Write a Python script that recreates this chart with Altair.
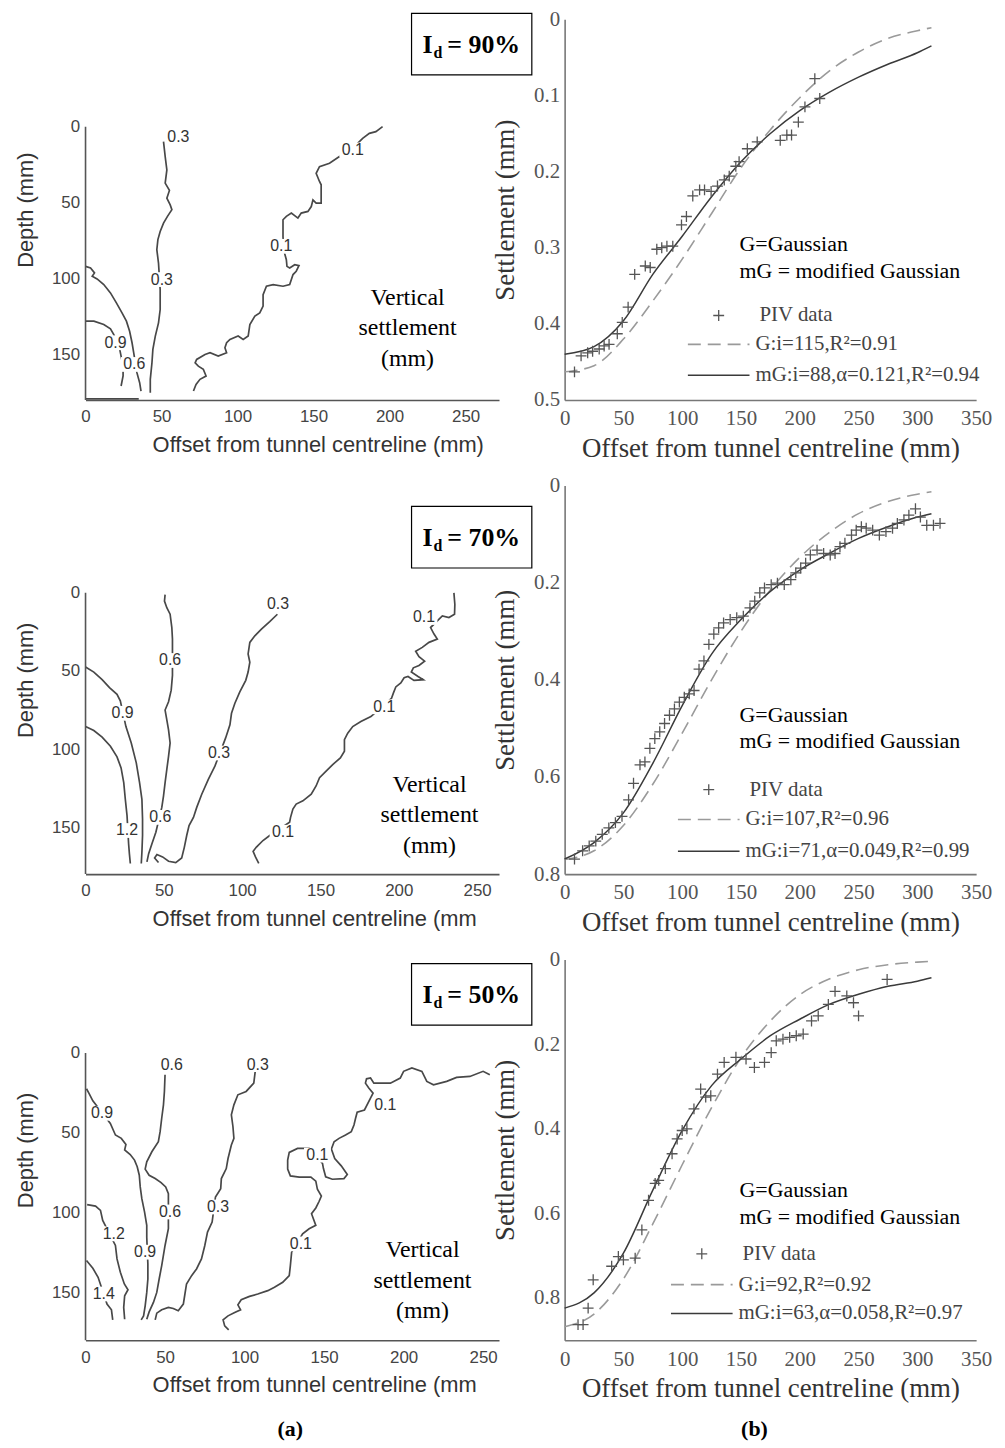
import altair as alt
import pandas as pd

SANS = "Liberation Sans"
SERIF = "Liberation Serif"
PLUS = "M-1,0L1,0M0,-1L0,1"
LABEL_BG = "M-1,-0.55L1,-0.55L1,0.55L-1,0.55Z"

# ---------------- (b) settlement troughs : PIV data ----------------
piv90_x = [8.4, 14, 19.6, 23.8, 29.4, 33.6, 37.8, 44.8, 49, 54, 59.6, 68.6, 72.8, 78.4, 82.6, 87, 92,
           99.4, 103.6, 109, 114.8, 119, 124.6, 130, 135.8, 140, 145.6, 148.4, 155.4, 163.8, 183.4,
           189, 193, 198.8, 204.4, 212.8, 217]
piv90_y = [0.463, 0.442, 0.438, 0.436, 0.433, 0.429, 0.427, 0.413, 0.398, 0.378, 0.335, 0.324, 0.326,
           0.302, 0.300, 0.298, 0.298, 0.270, 0.259, 0.232, 0.224, 0.224, 0.226, 0.219, 0.211, 0.206,
           0.193, 0.187, 0.170, 0.161, 0.159, 0.152, 0.152, 0.135, 0.115, 0.078, 0.104]

piv70_x = [8.4, 15.3, 20.9, 26.5, 32, 37.6, 43.2, 48.8, 54.4, 58.6, 64.1, 68.3, 72.5, 76.7, 80.9, 85,
           89.2, 93.4, 97.6, 101.8, 106, 110.1, 114.3, 118.5, 122.7, 126.9, 131, 135.2, 140.8, 146.4,
           152, 157.6, 161.7, 166, 170, 175.7, 181, 186.8, 192.4, 196.6, 200.8, 205, 209, 214.7, 220.3,
           225.9, 230, 234.2, 238.4, 244, 248, 252.4, 256.5, 262, 267.7, 273.3, 278.9, 283, 288.6,
           292.8, 298.4, 302.6, 308, 313.7, 319.3]
piv70_y = [0.769, 0.752, 0.742, 0.732, 0.718, 0.705, 0.694, 0.681, 0.647, 0.613, 0.575, 0.569, 0.541,
           0.521, 0.507, 0.490, 0.473, 0.460, 0.446, 0.436, 0.429, 0.422, 0.378, 0.361, 0.327, 0.306,
           0.293, 0.283, 0.276, 0.272, 0.269, 0.252, 0.238, 0.221, 0.211, 0.204, 0.201, 0.204, 0.194,
           0.180, 0.170, 0.160, 0.143, 0.133, 0.140, 0.143, 0.140, 0.126, 0.119, 0.102, 0.092, 0.085,
           0.088, 0.092, 0.102, 0.095, 0.088, 0.078, 0.071, 0.061, 0.048, 0.065, 0.082, 0.082, 0.078]

piv50_x = [11.4, 15.7, 20, 24.3, 40, 45.7, 50, 60, 65.7, 71.4, 77, 80, 85.7, 91.4, 95.7, 100, 104, 110,
           115.7, 120, 124.3, 130, 135.7, 145.7, 154.3, 161.4, 170, 175.7, 180, 185.7, 191.4, 197,
           202.9, 210, 215.7, 224.3, 230, 240, 245.7, 250, 274.3]
piv50_y = [0.863, 0.863, 0.824, 0.757, 0.725, 0.702, 0.710, 0.706, 0.639, 0.569, 0.529, 0.522, 0.494,
           0.459, 0.424, 0.404, 0.400, 0.353, 0.306, 0.325, 0.322, 0.271, 0.243, 0.231, 0.235, 0.255,
           0.243, 0.220, 0.192, 0.188, 0.184, 0.180, 0.176, 0.145, 0.133, 0.106, 0.075, 0.086, 0.102,
           0.133, 0.047]

# ---------------- fitted curves ----------------
fit_x = [0, 25, 50, 75, 100, 125, 150, 175, 200, 225, 250, 275, 300, 312]
g90 = [0.463, 0.455, 0.42, 0.37, 0.315, 0.255, 0.195, 0.145, 0.103, 0.068, 0.043, 0.025, 0.015, 0.011]
mg90 = [0.44, 0.43, 0.396, 0.335, 0.285, 0.233, 0.187, 0.150, 0.120, 0.096, 0.076, 0.059, 0.044, 0.035]
g70 = [0.77, 0.752, 0.70, 0.615, 0.51, 0.40, 0.30, 0.215, 0.148, 0.097, 0.058, 0.033, 0.018, 0.013]
mg70 = [0.769, 0.735, 0.674, 0.572, 0.453, 0.347, 0.276, 0.218, 0.174, 0.14, 0.109, 0.085, 0.065, 0.058]
g50 = [0.868, 0.838, 0.755, 0.625, 0.485, 0.35, 0.232, 0.145, 0.083, 0.046, 0.024, 0.012, 0.006, 0.004]
mg50 = [0.824, 0.788, 0.694, 0.545, 0.404, 0.298, 0.235, 0.180, 0.141, 0.106, 0.082, 0.063, 0.051, 0.043]

# ---------------- (a) vertical settlement contours ----------------
c90_01_x = [195.4, 191, 186.7, 182.3, 178, 171.4, 167, 160.5, 153.9, 151.7, 153.9, 155, 155, 151.7, 149.6,
            148.5, 146.3, 141.9, 139.7, 135.4, 132.1, 129.9, 129.9, 130.3, 132.1, 132.5, 134.3, 137.6,
            140.4, 138.6, 136.5, 134.3, 129.9, 123.4, 119, 116.8, 116.8, 114.6, 111.4, 108.1, 107, 103.7,
            100.4, 95, 92.8, 91.7, 92.8, 87.3, 81.9, 78.6, 73.1, 72.1, 74.2, 77.5, 79.3, 75.3, 72.7, 71]
c90_01_y = [0, 3.3, 4.4, 7.7, 12, 17.5, 19.7, 24.1, 26.3, 30.7, 36.1, 38.3, 50.4, 50.4, 48.2, 52.6, 55.8,
            56.9, 60.2, 56.9, 59.1, 61.3, 72.3, 81, 87.6, 92, 93.1, 90.9, 91.5, 95.2, 97.4, 104, 105.1,
            104, 105.1, 110.6, 118.2, 122.6, 124.8, 130.3, 137.9, 140.1, 137.9, 140.1, 142.3, 145.6,
            148.9, 151.1, 148.9, 150, 153.3, 155.5, 157.7, 159.8, 164.2, 166.4, 169.7, 174.1]
c90_03_x = [51.3, 52.4, 53.5, 52.4, 55.2, 53.5, 55.7, 56.8, 53.9, 51.3, 49.1, 47.6, 46.9, 48, 49.1, 49.1,
            48, 45.9, 44.3, 43.7, 42.6, 42.6]
c90_03_y = [9.9, 19.7, 28.5, 37.2, 42, 47.1, 51.5, 54.7, 59.1, 63.5, 69, 74.4, 81, 89.8, 107.3, 120.4,
            129.2, 137.9, 146.7, 155.5, 166.4, 175.2]
c90_06_x = [0, 3.3, 5.9, 4.4, 7.6, 12, 16.4, 20.3, 24, 26.9, 29, 30.6, 31.7, 33.8, 35.6, 36.5]
c90_06_y = [92, 93.1, 96.3, 98.5, 100.3, 104, 109.5, 116, 122.6, 128.1, 134.7, 142.3, 148.9, 162, 168.6, 174.1]
c90_09_x = [0, 5.5, 12, 16.4, 18.6, 22.5, 24.7, 24.7, 23.4]
c90_09_y = [128.1, 128.1, 130.3, 133.1, 136.9, 146.7, 157.7, 164.2, 170.8]
c90_b_x = [0, 35]
c90_b_y = [179.3, 179.3]
lab90_t = ["0.3", "0.1", "0.1", "0.3", "0.9", "0.6"]
lab90_x = [61.1, 175.8, 128.8, 50.2, 19.7, 32.1]
lab90_y = [6.6, 15.3, 78.8, 100.7, 142.3, 156.6]

c70_01_x = [235.2, 235.8, 235.6, 232, 227.8, 220.3, 222.5, 224.6, 219.3, 215, 210.8, 212.9, 216.5, 212.9,
            209.3, 208, 212.3, 215.7, 209.7, 205.9, 203.4, 201.3, 198.1, 196.6, 195.3, 182.2, 175.8,
            170.6, 167.4, 165.3, 165.3, 162.7, 157.8, 153.6, 149.4, 147.2, 144.1, 138.8, 134.5, 132.4,
            130.9, 130.3, 117.6, 113.3, 109.1, 107, 108.5, 110.6]
c70_01_y = [0, 7.4, 13.7, 15.8, 14.8, 22.2, 26.4, 29.6, 31.7, 34.9, 37.4, 40.8, 43.7, 46.5, 48, 50.7,
            53.5, 55.6, 56, 53.5, 54.3, 57.7, 60.2, 64, 67.6, 79.2, 82.4, 85.6, 89.8, 94, 101.4, 105.6,
            109.9, 114.1, 118.3, 123.6, 128.9, 133.1, 135.2, 138.4, 143.7, 146.8, 155.3, 158.5, 162.7,
            165.4, 169, 173.2]
c70_03_x = [122.5, 117.6, 112.3, 108.1, 104.9, 103.8, 104.9, 103.8, 102.3, 98.5, 95.3, 93.2, 92.2, 89.4,
            82.6, 78.4, 74.2, 71, 68.9, 66.1, 64.6, 63.1, 61.4, 57.6, 53, 49.2, 45.6, 44.1, 46.6]
c70_03_y = [13.7, 18.4, 23.2, 27.5, 31.7, 39.1, 44.4, 50.7, 56, 63.4, 70.8, 77.1, 84.5, 93, 110.9, 119.4,
            128.9, 137.3, 143.7, 149, 155.3, 162.7, 169.7, 172.6, 171.8, 169, 167.5, 169.7, 172.6]
c70_06_x = [50.8, 50.4, 51.9, 54, 55.1, 55.5, 55.5, 54.7, 53, 50.8, 51.9, 53, 54, 53, 51.9, 50.8, 49.8,
            48.7, 44.9, 42.4, 40.3, 39.2]
c70_06_y = [1.1, 5.3, 9.5, 13.7, 22.2, 29.6, 52.8, 62.3, 69.7, 75, 81.3, 87.7, 96.1, 104.6, 113, 121.5,
            129.9, 137.3, 153.2, 160.6, 166.9, 172.2]
c70_09_x = [0, 5.3, 10.6, 15.3, 20.1, 22.2, 25.8, 29.2, 32.4, 34.5, 36, 36.4, 36.4, 36, 35.6]
c70_09_y = [47.5, 50.7, 55.6, 60.6, 64.9, 69.1, 85.6, 96.1, 108.8, 121.5, 132.1, 144.7, 155.3, 165.9, 173.2]
c70_12_x = [0, 5.3, 10.6, 15.9, 20.1, 22.7, 24.4, 25.4, 26.5, 27.5, 28, 28.6]
c70_12_y = [85.6, 88.1, 92.3, 98.2, 105, 112, 121.5, 132.1, 142.6, 160.6, 166.9, 173.2]
lab70_t = ["0.3", "0.1", "0.6", "0.1", "0.9", "0.3", "0.6", "1.2", "0.1"]
lab70_x = [122.9, 216.1, 54, 190.7, 23.7, 85.2, 47.7, 26.5, 126.1]
lab70_y = [7.4, 15.8, 43.3, 72.9, 77.1, 102.5, 143.7, 152.1, 153.2]

c50_01_x = [254.2, 250, 241.7, 233.3, 227.1, 218.8, 214.6, 211.5, 205.2, 200, 197.9, 191.7, 181.3, 179.2,
            176.7, 176, 178.1, 180.8, 175.4, 170.8, 169.8, 168.8, 167.1, 163.5, 159.4, 156.3, 154.6,
            156.7, 160.8, 164.6, 162.5, 155.2, 151, 149.6, 149, 140.6, 133.3, 128.1, 127.1, 127.1, 128.8,
            134.4, 141.7, 144.8, 145.8, 148.3, 146.9, 144.8, 142.1, 144.8, 140.6, 136.5, 129.6, 128.8,
            128.1, 124, 118.8, 114.6, 108.3, 103.1, 97.9, 95.8, 97.5, 93.8, 89.6, 86.5, 87.5, 90]
c50_01_y = [13.6, 11.5, 14.7, 15.3, 17.8, 19.9, 17.8, 11.5, 9.4, 11.5, 15.7, 18.9, 18.9, 15.7, 16.2, 18.9,
            22, 25.2, 35.7, 37.1, 40.9, 45.1, 49.3, 51.4, 53.5, 55.6, 60.2, 66.1, 70.7, 76.1, 78.7, 79.1,
            77.6, 72.4, 69.2, 59.8, 59.8, 62.3, 67.1, 72.8, 77, 77.8, 77.8, 80.3, 85.4, 89.6, 92.9, 97.1,
            100.7, 108, 110.1, 113.3, 124.8, 133.2, 139.5, 143.7, 146.8, 148.9, 151, 152.5, 154.6, 157.8,
            160.9, 162.6, 164.7, 167.2, 171, 173.5]
c50_03_x = [106.7, 105.8, 101, 95.8, 93.3, 91.7, 92.7, 93.3, 91.7, 89.6, 88.5, 85.4, 85, 81.7, 79.6, 76.7,
            75, 72.9, 69.8, 66.7, 63.5, 62.5, 61.5, 58.3, 55.2, 52.1, 47.9, 44.8, 43.8]
c50_03_y = [11.5, 18.9, 24.1, 26.2, 32.5, 38.8, 46.2, 53.5, 57.7, 66.1, 72.4, 78.7, 85, 90.2, 105.9, 112.2,
            120.6, 129, 135.3, 139.5, 144.7, 151, 157.3, 161.5, 160.1, 159.4, 160.9, 163, 167.2]
c50_06_x = [50, 49.6, 49, 47.9, 46.9, 45.8, 41.7, 38.5, 37.5, 40, 43.8, 47.5, 50.4, 52.1, 52.1, 50, 47.9,
            46.3, 44.8, 42.7, 40, 38.5]
c50_06_y = [13.6, 24.1, 32.5, 40.9, 49.3, 55.6, 61.9, 68.2, 72.8, 76.6, 78.7, 81.2, 83.9, 88.1, 110.1,
            120.6, 133.2, 141.6, 150, 156.3, 162.2, 166.8]
c50_09_x = [0.6, 2.1, 4.6, 15.6, 18.8, 22.5, 25.4, 24.6, 28.1, 30.8, 32.5, 33.8, 34.4, 35.4, 37.1, 38.5,
            38.5, 39.2, 39.2, 38.5, 37.5, 36.5, 35]
c50_09_y = [22.4, 25.2, 30, 44.1, 51.4, 53.5, 57.3, 60.8, 63.6, 67.1, 71.3, 76.6, 83.9, 91.3, 99.6, 108,
            115.4, 132.2, 141.6, 150, 158.4, 164.7, 167.2]
c50_12_x = [1, 6.3, 9.4, 10.8, 18.8, 19.8, 21.9, 24.4, 26.7, 24.6, 24, 24.6]
c50_12_y = [95, 95.9, 98.6, 104.9, 120.6, 129, 137.4, 144.7, 148.3, 152.1, 159.4, 166.8]
c50_14_x = [0.6, 4.6, 7.9, 13.5, 16.3, 17.1]
c50_14_y = [130, 134.9, 140.5, 157.3, 160.9, 167.2]
lab50_t = ["0.6", "0.3", "0.1", "0.9", "0.1", "0.6", "0.3", "1.2", "0.1", "0.9", "1.4"]
lab50_x = [54.2, 108.3, 188.5, 10.4, 145.8, 53.1, 83.3, 17.7, 135.4, 37.5, 11.5]
lab50_y = [7.3, 7.3, 32.5, 37.8, 64, 99.6, 96.5, 113.3, 119.6, 124.8, 151]

ONE = alt.Data(values=[{}])

LW, RW = 416, 414


def contour_frame(lines):
    rows = []
    for name, xs, ys in lines:
        for i, (x, y) in enumerate(zip(xs, ys)):
            rows.append({"line": name, "i": i, "x": x, "y": y})
    return pd.DataFrame(rows)


def left_panel(lines, lab_t, lab_x, lab_y, xmax, ymin, height, pct, box_top, vs_x, vs_y, xtitle,
               extra=None):
    xenc = alt.X("x:Q", scale=alt.Scale(domain=[0, xmax], nice=False, zero=False),
                 axis=alt.Axis(values=[0, 50, 100, 150, 200, 250], title=xtitle, grid=False,
                               ticks=False, tickSize=0, domainColor="#555", domainWidth=1.6,
                               labelFont=SANS, labelFontSize=17, labelColor="#444", labelPadding=9,
                               labelFlush=False, labelOverlap=False,
                               titleFont=SANS, titleFontSize=22, titleColor="#333",
                               titleFontWeight="normal", titleAlign="left", titleX=67, titleY=52,
                               titleBaseline="alphabetic"))
    yenc = alt.Y("y:Q", scale=alt.Scale(domain=[ymin, 180], reverse=True, nice=False, zero=False),
                 axis=alt.Axis(values=[0, 50, 100, 150], title="Depth (mm)", grid=False, ticks=False,
                               tickSize=0, domain=False, labelFont=SANS, labelFontSize=17,
                               labelColor="#444", labelPadding=6, labelOverlap=False,
                               titleFont=SANS, titleFontSize=22, titleColor="#333",
                               titleFontWeight="normal", titlePadding=14))
    cdf = contour_frame(lines)
    contours = alt.Chart(cdf).mark_line(color="#484848", strokeWidth=1.7).encode(
        x=xenc, y=yenc, detail="line:N", order="i:Q")
    axis_line = alt.Chart(pd.DataFrame({"x": [0], "y": [0], "y2": [180]})).mark_rule(
        color="#555", strokeWidth=1.6).encode(x=xenc, y=yenc, y2="y2:Q")
    ldf = pd.DataFrame({"t": lab_t, "x": lab_x, "y": lab_y})
    bg = alt.Chart(ldf).mark_point(shape=LABEL_BG, filled=True, fill="white", opacity=1,
                                   size=27 * 27, strokeWidth=0).encode(x=xenc, y=yenc)
    labels = alt.Chart(ldf).mark_text(font=SANS, fontSize=16, color="#333").encode(
        x=xenc, y=yenc, text="t:N")
    box = alt.Chart(ONE).mark_rect(fill="white", stroke="black", strokeWidth=1.2).encode(
        x=alt.value(328), x2=alt.value(449), y=alt.value(box_top), y2=alt.value(box_top + 62))
    t_i = alt.Chart(ONE).mark_text(text="I", font=SERIF, fontSize=26, fontWeight="bold", align="left",
                                   baseline="alphabetic", color="black").encode(
        x=alt.value(339), y=alt.value(box_top + 40))
    t_d = alt.Chart(ONE).mark_text(text="d", font=SERIF, fontSize=16, fontWeight="bold", align="left",
                                   baseline="alphabetic", color="black").encode(
        x=alt.value(350), y=alt.value(box_top + 45))
    t_rest = alt.Chart(ONE).mark_text(text="= " + pct, font=SERIF, fontSize=26, fontWeight="bold",
                                      align="left", baseline="alphabetic", color="black").encode(
        x=alt.value(364), y=alt.value(box_top + 40))
    vs = alt.Chart(ONE).mark_text(text=["Vertical", "settlement", "(mm)"], lineHeight=31, font=SERIF,
                                  fontSize=24, align="center", baseline="alphabetic",
                                  color="black").encode(x=alt.value(vs_x), y=alt.value(vs_y))
    layers = [contours, axis_line, bg, labels, box, t_i, t_d, t_rest, vs]
    if extra is not None:
        layers.append(extra)
    return alt.layer(*layers).properties(width=LW, height=height)


def right_panel(px, py, gy, mgy, ymax, yvals, height, glab, mglab, lx, ly, extra=None):
    xenc = alt.X("x:Q", scale=alt.Scale(domain=[0, 350], nice=False, zero=False),
                 axis=alt.Axis(values=[0, 50, 100, 150, 200, 250, 300, 350],
                               title="Offset from tunnel centreline (mm)", grid=False, ticks=False,
                               tickSize=0, domainColor="#777", domainWidth=1.6, labelFont=SERIF,
                               labelFontSize=21, labelColor="#555", labelPadding=8,
                               labelFlush=False, labelOverlap=False, titleFont=SERIF,
                               titleFontSize=27, titleColor="#333", titleFontWeight="normal",
                               titleY=57, titleBaseline="alphabetic"))
    yenc = alt.Y("y:Q", scale=alt.Scale(domain=[0, ymax], reverse=True, nice=False, zero=False),
                 axis=alt.Axis(values=yvals, format="~g", title="Settlement (mm)", grid=False,
                               ticks=False, tickSize=0, domainColor="#777", domainWidth=1.6,
                               labelFont=SERIF, labelFontSize=21, labelColor="#555", labelPadding=5,
                               labelFlush=False, labelOverlap=False, titleFont=SERIF,
                               titleFontSize=27, titleColor="#333", titleFontWeight="normal",
                               titlePadding=14))
    n = len(fit_x)
    gdf = pd.DataFrame({"x": fit_x, "y": gy[:n]})
    mgdf = pd.DataFrame({"x": fit_x, "y": mgy[:n]})
    gline = alt.Chart(gdf).mark_line(color="#9a9a9a", strokeWidth=1.6, strokeDash=[13, 7],
                                     interpolate="monotone").encode(x=xenc, y=yenc)
    mgline = alt.Chart(mgdf).mark_line(color="#3a3a3a", strokeWidth=1.5,
                                       interpolate="monotone").encode(x=xenc, y=yenc)
    pts = alt.Chart(pd.DataFrame({"x": px, "y": py})).mark_point(
        shape=PLUS, size=120, filled=False, color="#555", strokeWidth=1.3, opacity=1).encode(x=xenc, y=yenc)

    def txt(s, x, y, size=22, color="black", baseline="alphabetic"):
        return alt.Chart(ONE).mark_text(text=s, font=SERIF, fontSize=size, color=color, align="left",
                                        baseline=baseline).encode(x=alt.value(x), y=alt.value(y))

    note1 = txt("G=Gaussian", 176, ly[0])
    note2 = txt("mG = modified Gaussian", 176, ly[1])
    leg_plus = alt.Chart(ONE).mark_point(shape=PLUS, size=120, filled=False, color="#555",
                                         strokeWidth=1.3, opacity=1).encode(
        x=alt.value(lx + 31), y=alt.value(ly[2]))
    leg_piv = txt("PIV data", lx + 72, ly[2], size=21, color="#444", baseline="middle")
    leg_g = alt.Chart(ONE).mark_rule(color="#9a9a9a", strokeWidth=1.6, strokeDash=[13, 7]).encode(
        x=alt.value(lx), x2=alt.value(lx + 62), y=alt.value(ly[3]))
    leg_gt = txt(glab, lx + 68, ly[3], size=21, color="#444", baseline="middle")
    leg_mg = alt.Chart(ONE).mark_rule(color="#3a3a3a", strokeWidth=1.5).encode(
        x=alt.value(lx), x2=alt.value(lx + 62), y=alt.value(ly[4]))
    leg_mgt = txt(mglab, lx + 68, ly[4], size=21, color="#444", baseline="middle")
    layers = [gline, mgline, pts, note1, note2, leg_plus, leg_piv, leg_g, leg_gt, leg_mg, leg_mgt]
    if extra is not None:
        layers.append(extra)
    return alt.layer(*layers).properties(width=RW, height=height)


def caption(s, x, y):
    return alt.Chart(ONE).mark_text(text=s, font=SERIF, fontSize=22, fontWeight="bold",
                                    align="center", baseline="middle", color="black").encode(
        x=alt.value(x), y=alt.value(y))


H1, H2, H3 = 383, 391, 383

left90 = left_panel([("c01", c90_01_x, c90_01_y), ("c03", c90_03_x, c90_03_y),
                     ("c06", c90_06_x, c90_06_y), ("c09", c90_09_x, c90_09_y),
                     ("cb", c90_b_x, c90_b_y)],
                    lab90_t, lab90_x, lab90_y, 272, -70.7, H1, "90%", -6, 324, 287,
                    "Offset from tunnel centreline (mm)")
left70 = left_panel([("c01", c70_01_x, c70_01_y), ("c03", c70_03_x, c70_03_y),
                     ("c06", c70_06_x, c70_06_y), ("c09", c70_09_x, c70_09_y),
                     ("c12", c70_12_x, c70_12_y)],
                    lab70_t, lab70_x, lab70_y, 264, -68.7, H2, "70%", 21, 346, 308,
                    "Offset from tunnel centreline (mm")
left50 = left_panel([("c01", c50_01_x, c50_01_y), ("c03", c50_03_x, c50_03_y),
                     ("c06", c50_06_x, c50_06_y), ("c09", c50_09_x, c50_09_y),
                     ("c12", c50_12_x, c50_12_y), ("c14", c50_14_x, c50_14_y)],
                    lab50_t, lab50_x, lab50_y, 260, -58.5, H3, "50%", 4, 339, 299,
                    "Offset from tunnel centreline (mm", extra=caption("(a)", 206, 472))

right90 = right_panel(piv90_x, piv90_y, g90, mg90, 0.5, [0, 0.1, 0.2, 0.3, 0.4, 0.5], H1,
                      "G:i=115,R²=0.91", "mG:i=88,α=0.121,R²=0.94", 124, [233, 260, 298, 327, 358])
right70 = right_panel(piv70_x, piv70_y, g70, mg70, 0.8, [0, 0.2, 0.4, 0.6, 0.8], H2,
                      "G:i=107,R²=0.96", "mG:i=71,α=0.049,R²=0.99", 114, [238, 264, 306, 336, 368])
right50 = right_panel(piv50_x, piv50_y, g50, mg50, 0.9, [0, 0.2, 0.4, 0.6, 0.8], H3,
                      "G:i=92,R²=0.92", "mG:i=63,α=0.058,R²=0.97", 107, [239, 266, 296, 327, 356],
                      extra=caption("(b)", 191, 472))

chart = alt.concat(left90, right90, left70, right70, left50, right50, columns=2,
                   spacing={"row": 86, "column": 66}, bounds="flush").properties(
    padding={"left": 6, "top": -4, "right": 5, "bottom": 5},
    background="white",
).configure_view(stroke=None)

chart.save("out.html", embed_options={"renderer": "svg", "actions": False})
